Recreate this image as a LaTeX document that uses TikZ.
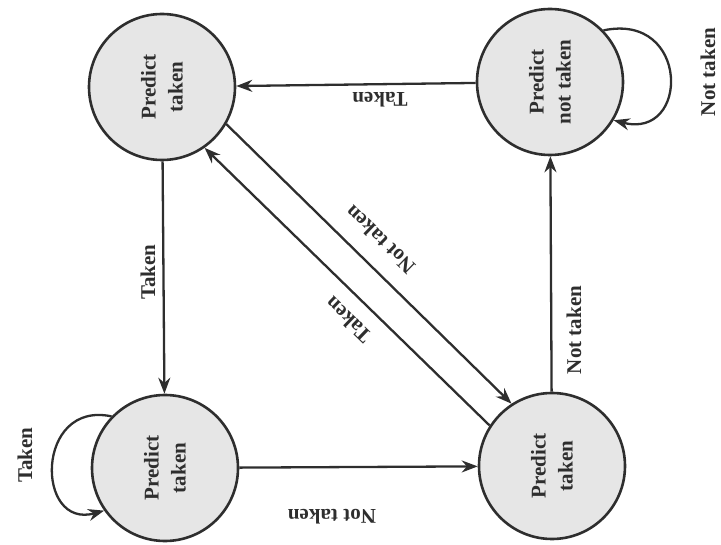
\documentclass[tikz,border=0pt]{standalone}
\usepackage{fontspec}
\setmainfont{Liberation Serif}
\usetikzlibrary{arrows.meta}
\definecolor{ink}{HTML}{2E2E2E}
\definecolor{disk}{HTML}{E6E6E6}
\tikzset{
  state/.style={circle, draw=ink, line width=2.6pt, fill=disk, minimum size=146pt, inner sep=0pt,
    align=center, font=\fontsize{21}{27}\selectfont\bfseries, text=ink},
  arr/.style={draw=ink, line width=2.3pt, -{Stealth[length=16pt,width=12pt]}},
  lbl/.style={font=\fontsize{21}{25}\selectfont\bfseries, text=ink, inner sep=0pt}
}
\begin{document}
\begin{tikzpicture}[x=1pt,y=-1pt]
\useasboundingbox (0,0) rectangle (721,545);
\node[state, rotate=90] (A) at (162,87) {Predict\\taken};
\node[state, rotate=90] (B) at (550,82) {Predict\\not taken};
\node[state, rotate=90] (C) at (165,468) {Predict\\taken};
\node[state, rotate=90] (D) at (552,466) {Predict\\taken};
% straight edges
\draw[arr] (B) -- (A);
\draw[arr] (A) -- (C);
\draw[arr] (C) -- (D);
\draw[arr] (D) -- (B);
% diagonals (angles given in the rotated node frame: subtract 90)
\draw[arr] (A.{-30-90}) -- (D.{123-90});
\draw[arr] (D.{147-90}) -- (A.{-55-90});
% self loops
\draw[arr] (B.{44-90}) .. controls (690,12) and (690,140) .. (B.{-31-90});
\draw[arr] (C.{136-90}) .. controls (35,400) and (35,530) .. (C.{215-90});
% labels
\node[lbl, rotate=180] (l1) at (380,100) {Taken};
\node[lbl, rotate=90] (l2) at (148,272) {Taken};
\node[lbl, rotate=180] (l3) at (332,517) {Not taken};
\node[lbl, rotate=90] (l4) at (574,330) {Not taken};
\node[lbl, rotate=136] (l5) at (380,240) {Not taken};
\node[lbl, rotate=136] (l6) at (348,320) {Taken};
\node[lbl, rotate=90] (l7) at (25,455) {Taken};
\node[lbl, rotate=90] (l8) at (708,72) {Not taken};
\end{tikzpicture}
\end{document}
